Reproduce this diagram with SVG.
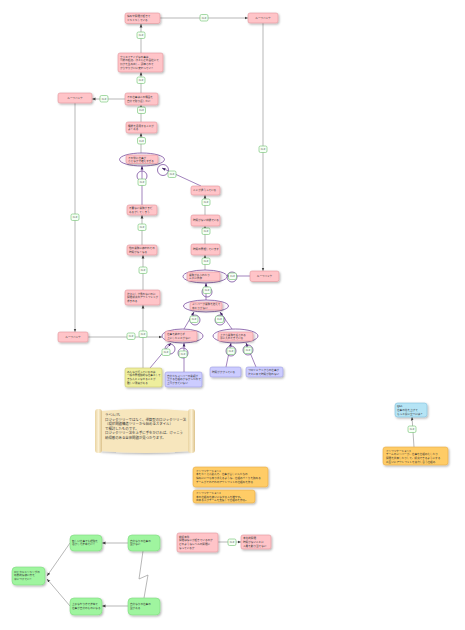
<svg xmlns="http://www.w3.org/2000/svg" width="465" height="630" viewBox="0 0 465 630">
<defs>
<filter id="sh" x="-20%" y="-20%" width="150%" height="160%"><feDropShadow dx="1" dy="1.2" stdDeviation="0.8" flood-color="#000" flood-opacity="0.3"/></filter>
<marker id="ah" viewBox="0 0 10 10" refX="10" refY="5" markerWidth="3.5" markerHeight="3.5" markerUnits="userSpaceOnUse" orient="auto"><path d="M0,1 L10,5 L0,9z" fill="#444"/></marker>
<marker id="ap" viewBox="0 0 10 10" refX="10" refY="5" markerWidth="3.5" markerHeight="3.5" markerUnits="userSpaceOnUse" orient="auto"><path d="M0,1 L10,5 L0,9z" fill="#3a2060"/></marker>
<linearGradient id="roll" x1="0" x2="1"><stop offset="0" stop-color="#e9d3a0"/><stop offset="0.5" stop-color="#fbf0d4"/><stop offset="1" stop-color="#dcc28a"/></linearGradient>
</defs>
<style>
text{font-family:"Noto Sans CJK JP","Noto Sans",sans-serif;font-size:2.6px;fill:#333}
.pk{fill:#ffc4c8;stroke:#e2959b;stroke-width:.6;filter:url(#sh)}
.yl{fill:#eeee9c;stroke:#c9c770;stroke-width:.6;filter:url(#sh)}
.bl{fill:#ccccff;stroke:#9c9ce0;stroke-width:.6;filter:url(#sh)}
.or{fill:#ffcc66;stroke:#e4aa44;stroke-width:.6;filter:url(#sh)}
.cy{fill:#b5e4f5;stroke:#80c0dc;stroke-width:.6;filter:url(#sh)}
.gr{fill:#9ff59f;stroke:#80d880;stroke-width:.6;filter:url(#sh)}
.el{fill:#fbf6fb;stroke:#7a4fa0;stroke-width:.8}
.ci{fill:none;stroke:#7a4fa0;stroke-width:.8}
.ln{fill:none;stroke:#999;stroke-width:.7}
.pl{fill:none;stroke:#7a4fa0;stroke-width:.7}
.lb rect{fill:#f6fff6;stroke:#6bbf6b;stroke-width:.6}
.lb text{font-size:2.4px;fill:#555}
.sc{font-size:3.4px}
</style>

<g id="connectors">
<path class="ln" d="M160,18 H248" marker-end="url(#ah)"/>
<path class="ln" d="M141,53 V24" marker-end="url(#ah)"/>
<path class="ln" d="M263,23 V271" marker-end="url(#ah)"/>
<path class="ln" d="M141,93 V72" marker-end="url(#ah)"/>
<path class="ln" d="M125,99 H92" marker-end="url(#ah)"/>
<path class="ln" d="M141,122 V105" marker-end="url(#ah)"/>
<path class="ln" d="M141,153 V133" marker-end="url(#ah)"/>
<path class="ln" d="M75,103 V332" marker-end="url(#ah)"/>
<path class="ln" d="M88,337 H162" marker-end="url(#ah)"/>
<path class="pl" d="M142,205 V166" marker-end="url(#ap)"/>
<path class="pl" d="M201,186 L162,168" marker-end="url(#ap)"/>
<path class="ln" d="M142,245 V215" marker-end="url(#ah)"/>
<path class="ln" d="M143,290 V255" marker-end="url(#ah)"/>
<path class="ln" d="M143,368 V305" marker-end="url(#ah)"/>
<path class="ln" d="M205,215 V195" marker-end="url(#ah)"/>
<path class="ln" d="M205,244 V226" marker-end="url(#ah)"/>
<path class="ln" d="M205,270 V255" marker-end="url(#ah)"/>
<path class="pl" d="M250,276 H227" marker-end="url(#ap)"/>
<path class="pl" d="M206,300 V283" marker-end="url(#ap)"/>
<path class="pl" d="M184,329 L194,312" marker-end="url(#ap)"/>
<path class="pl" d="M232,329 L220,312" marker-end="url(#ap)"/>
<path class="pl" d="M150,368 L171,343" marker-end="url(#ap)"/>
<path class="pl" d="M184,372 V343" marker-end="url(#ap)"/>
<path class="pl" d="M226,367 L231,343" marker-end="url(#ap)"/>
<path class="pl" d="M256,367 L246,343" marker-end="url(#ap)"/>
<path class="ln" d="M414,447 L412,417" marker-end="url(#ah)"/>
<path class="ln" d="M218,542 H241" marker-end="url(#ah)"/>
<path class="ln" d="M128,543 H102" marker-end="url(#ah)"/>
<path class="ln" d="M128,606 H102" marker-end="url(#ah)"/>
<path class="ln" d="M70,543 L47,576" marker-end="url(#ah)"/>
<path class="ln" d="M70,606 L47,579" marker-end="url(#ah)"/>
<path class="ln" d="M144,598 L148,575 L139,579 L143,551"/>
<circle class="ci" cx="142" cy="176" r="5"/>
<circle class="ci" cx="163" cy="170" r="5.5"/>
<circle class="ci" cx="232" cy="277" r="5"/>
<circle class="ci" cx="207" cy="292" r="5"/>
<circle class="ci" cx="195" cy="320" r="5"/>
<circle class="ci" cx="220" cy="320" r="5"/>
<circle class="ci" cx="170" cy="349" r="5"/>
<circle class="ci" cx="183" cy="353" r="5"/>
<circle class="ci" cx="231" cy="351" r="5"/>
<circle class="ci" cx="248" cy="350" r="5"/>
<g class="lb">
<rect x="200" y="14.5" width="8" height="6.5" rx="1.5"/><text x="204" y="18.8" text-anchor="middle">CLR</text>
<rect x="137" y="32" width="8" height="6.5" rx="1.5"/><text x="141" y="36.3" text-anchor="middle">CLR</text>
<rect x="259" y="146" width="8" height="6.5" rx="1.5"/><text x="263" y="150.3" text-anchor="middle">CLR</text>
<rect x="137" y="77" width="8" height="6.5" rx="1.5"/><text x="141" y="81.3" text-anchor="middle">CLR</text>
<rect x="100" y="95.5" width="8" height="6.5" rx="1.5"/><text x="104" y="99.8" text-anchor="middle">CLR</text>
<rect x="137.5" y="107" width="8" height="6.5" rx="1.5"/><text x="141.5" y="111.3" text-anchor="middle">CLR</text>
<rect x="137.5" y="137.5" width="8" height="6.5" rx="1.5"/><text x="141.5" y="141.8" text-anchor="middle">CLR</text>
<rect x="71" y="214" width="8" height="6.5" rx="1.5"/><text x="75" y="218.3" text-anchor="middle">CLR</text>
<rect x="127" y="333" width="8" height="6.5" rx="1.5"/><text x="131" y="337.3" text-anchor="middle">CLR</text>
<rect x="139" y="331" width="8" height="6.5" rx="1.5"/><text x="143" y="335.3" text-anchor="middle">CLR</text>
<rect x="138" y="179" width="8" height="6.5" rx="1.5"/><text x="142" y="183.3" text-anchor="middle">CLR</text>
<rect x="168" y="171" width="8" height="6.5" rx="1.5"/><text x="172" y="175.3" text-anchor="middle">CLR</text>
<rect x="138" y="224" width="8" height="6.5" rx="1.5"/><text x="142" y="228.3" text-anchor="middle">CLR</text>
<rect x="139" y="267" width="8" height="6.5" rx="1.5"/><text x="143" y="271.3" text-anchor="middle">CLR</text>
<rect x="202" y="199" width="8" height="6.5" rx="1.5"/><text x="206" y="203.3" text-anchor="middle">CLR</text>
<rect x="202" y="228" width="8" height="6.5" rx="1.5"/><text x="206" y="232.3" text-anchor="middle">CLR</text>
<rect x="202" y="258" width="8" height="6.5" rx="1.5"/><text x="206" y="262.3" text-anchor="middle">CLR</text>
<rect x="228.5" y="273" width="8" height="6.5" rx="1.5"/><text x="232.5" y="277.3" text-anchor="middle">CLR</text>
<rect x="203" y="287" width="8" height="6.5" rx="1.5"/><text x="207" y="291.3" text-anchor="middle">CLR</text>
<rect x="190" y="316" width="8" height="6.5" rx="1.5"/><text x="194" y="320.3" text-anchor="middle">CLR</text>
<rect x="215.5" y="316" width="8" height="6.5" rx="1.5"/><text x="219.5" y="320.3" text-anchor="middle">CLR</text>
<rect x="162" y="349" width="8" height="6.5" rx="1.5"/><text x="166" y="353.3" text-anchor="middle">CLR</text>
<rect x="179" y="351" width="8" height="6.5" rx="1.5"/><text x="183" y="355.3" text-anchor="middle">CLR</text>
<rect x="227" y="348" width="8" height="6.5" rx="1.5"/><text x="231" y="352.3" text-anchor="middle">CLR</text>
<rect x="244" y="347" width="8" height="6.5" rx="1.5"/><text x="248" y="351.3" text-anchor="middle">CLR</text>
<rect x="408" y="426" width="8" height="6.5" rx="1.5"/><text x="412" y="430.3" text-anchor="middle">CLR</text>
<rect x="228" y="539" width="8" height="6.5" rx="1.5"/><text x="232" y="543.3" text-anchor="middle">CLR</text>
</g>
</g>

<g id="n-top"><rect class="pk" x="125" y="13" width="35" height="10.5" rx="2"/><text x="127" y="17.3">悩みや問題が起きて</text><text x="127" y="21">ドキドキしている</text></g>
<g id="n-loop1"><rect class="pk" x="248" y="13" width="30" height="10" rx="2"/><text x="263" y="18.9" text-anchor="middle">ループバック</text></g>
<g id="n-creative"><rect class="pk" x="118" y="53" width="45" height="19" rx="2"/><text x="120" y="57.5">クリエイティブなの事は</text><text x="120" y="61.2">可能の起点、ほとんどの会社にて</text><text x="120" y="64.9">何かを生み出し、評価されて</text><text x="120" y="68.6">からやりがいに変わっていく</text></g>
<g id="n-regain"><rect class="pk" x="125" y="93" width="33" height="12" rx="2"/><text x="127" y="98">その仕事はこの機会を</text><text x="127" y="101.7">自分で取り返したい</text></g>
<g id="n-loop2"><rect class="pk" x="58" y="93" width="34" height="10" rx="2"/><text x="75" y="98.9" text-anchor="middle">ループバック</text></g>
<g id="n-func"><rect class="pk" x="126" y="122" width="31" height="11" rx="2"/><text x="128" y="126.5">機能を活用することが</text><text x="128" y="130.2">よくある</text></g>
<g id="n-andA"><ellipse class="el" cx="142" cy="159.5" rx="22.5" ry="6.5"/><rect class="pk" x="126" y="155" width="32" height="8.5" rx="2"/><text x="128" y="158.6">その後に仕事が</text><text x="128" y="162.1">ささなかで増えすぎる</text></g>
<g id="n-unneeded"><rect class="pk" x="127" y="205" width="30" height="10" rx="2"/><text x="129" y="209.2">不要ない業務がまだ</text><text x="129" y="212.8">あるかしてしまう</text></g>
<g id="n-resource"><rect class="pk" x="127" y="245" width="30" height="10" rx="2"/><text x="129" y="249.2">他の業務に使われての</text><text x="129" y="252.8">時間がなくなる</text></g>
<g id="n-next"><rect class="pk" x="125" y="290" width="35" height="15" rx="2"/><text x="127" y="294.5">次々にしか見れないのに</text><text x="127" y="298.2">問題解決のアウトプットが</text><text x="127" y="301.9">求まれる</text></g>
<g id="n-diff"><rect class="pk" x="191" y="186" width="29" height="9" rx="2"/><text x="193" y="191.4">ここが違うっている</text></g>
<g id="n-notime"><rect class="pk" x="191" y="215" width="29" height="11" rx="2"/><text x="193" y="221.4">時間がない状態でいる</text></g>
<g id="n-manage"><rect class="pk" x="191" y="244" width="29" height="11" rx="2"/><text x="193" y="250.4">時間の管理しています</text></g>
<g id="n-andB"><ellipse class="el" cx="205" cy="276.5" rx="22" ry="6.5"/><rect class="pk" x="187" y="272" width="33" height="9" rx="2"/><text x="189" y="275.7">業務があふれたり</text><text x="189" y="279.2">ムダに残存</text></g>
<g id="n-loop3"><rect class="pk" x="250" y="271" width="29" height="10.5" rx="2"/><text x="264.5" y="277.2" text-anchor="middle">ループバック</text></g>
<g id="n-andC"><ellipse class="el" cx="206" cy="306" rx="22.5" ry="6"/><rect class="pk" x="190" y="302" width="32" height="8" rx="2"/><text x="192" y="305.4">メンバーが業務を抱えて</text><text x="192" y="308.8">ゆとりがない</text></g>
<g id="n-loop4"><rect class="pk" x="58" y="332" width="30" height="10" rx="2"/><text x="73" y="337.9" text-anchor="middle">ループバック</text></g>
<g id="n-andD"><ellipse class="el" cx="182.5" cy="336" rx="20.5" ry="7"/><rect class="pk" x="165" y="331" width="32" height="10" rx="2"/><text x="167" y="335.1">仕事を教わらず</text><text x="167" y="338.8">上にしたことがない</text></g>
<g id="n-andE"><ellipse class="el" cx="235.5" cy="336" rx="22.5" ry="7"/><rect class="pk" x="218" y="332" width="35" height="9" rx="2"/><text x="220" y="335.7">上から業務を任される</text><text x="220" y="339.2">手に入れてきている</text></g>
<g id="n-yellow"><rect class="yl" x="125" y="368" width="37" height="19" rx="2"/><text x="127" y="372.5">みんなが行っているのは</text><text x="127" y="376.2">一般の管理職的な仕事として</text><text x="127" y="379.9">きちんとこなせることが</text><text x="127" y="383.6">難しい現実がある</text></g>
<g id="n-blue1"><rect class="bl" x="165" y="372" width="37" height="15" rx="2"/><text x="167" y="376.5">自分たちメンバーの業績が</text><text x="167" y="380.2">上がる仕組みがなかったので</text><text x="167" y="383.9">上司がまだいない</text></g>
<g id="n-blue2"><rect class="bl" x="210" y="367" width="31" height="10" rx="2"/><text x="212" y="373">時間がかかっている</text></g>
<g id="n-blue3"><rect class="bl" x="246" y="367" width="37" height="10" rx="2"/><text x="248" y="371.2">プロジェクトからの仕事が</text><text x="248" y="374.8">次々に来て時間が取れない</text></g>

<g id="n-scroll">
<path d="M100,411 Q146,407 190,411 L190,451 Q146,455 100,451 Z" fill="#f7e6bd" filter="url(#sh)"/>
<rect x="95" y="409" width="7" height="44" rx="3" fill="url(#roll)"/>
<rect x="188" y="409" width="7" height="44" rx="3" fill="url(#roll)"/>
<text class="sc" x="105" y="416">ラベル/凡</text>
<text class="sc" x="105" y="420.5">ロジックツリーではなく、逆算型のロジックツリー法</text>
<text class="sc" x="105" y="425">（現状問題構造ツリーから始めるスタイル）</text>
<text class="sc" x="105" y="429.5">で検討したものです。</text>
<text class="sc" x="105" y="434">ロジックツリー法を上手に手をかければ、けっこう</text>
<text class="sc" x="105" y="438.5">納得感のある全体問題が見つかります。</text>
</g>

<g id="n-impl1"><rect class="or" x="193" y="467" width="75" height="20" rx="2.5"/><text x="196" y="471.5">インプリケーション1</text><text x="196" y="475.2">本をたくさん読んで、仕事が苦しい人たちの</text><text x="196" y="478.9">悩みにいつも寄り添えるような、仕組みづくりを試みる</text><text x="196" y="482.6">チームがそれぞれのアウトプットの仕組みを作る</text></g>
<g id="n-impl2"><rect class="or" x="193" y="490" width="62" height="13" rx="2.5"/><text x="196" y="494.3">インプリケーション2</text><text x="196" y="497.8">本の仕組みを使いこなせる人を増やす。</text><text x="196" y="501.3">出来る人がチームを支援して仕組みを作る。</text></g>

<g id="n-q"><rect class="cy" x="395" y="403" width="32" height="14" rx="2.5"/><text x="397" y="407.3">Q&amp;A</text><text x="397" y="410.9">仕事の質を上げて</text><text x="397" y="414.5">もっと役に立つには？</text></g>
<g id="n-impl3"><rect class="or" x="383" y="447" width="65" height="18" rx="2.5"/><text x="386" y="451.5">インプリケーション3</text><text x="386" y="455.2">チームのメンバーが、仕事を仕組み化したり</text><text x="386" y="458.9">問題を共有したりして、解決できるようにする</text><text x="386" y="462.6">お互いにアウトプットを協力し合う仕組み</text></g>

<g id="n-gA"><rect class="gr" x="12" y="567" width="33" height="18" rx="4"/><text x="14" y="572.5">ロジカルシンキングの</text><text x="14" y="576.3">効果的な使い方を</text><text x="14" y="580.1">身につけていく</text></g>
<g id="n-gB"><rect class="gr" x="70" y="535" width="32" height="16" rx="4"/><text x="72" y="541.5">新しい仕事でも経験を</text><text x="72" y="545.3">活かして進めていく</text></g>
<g id="n-gC"><rect class="gr" x="128" y="535" width="32" height="16" rx="4"/><text x="130" y="541.5">自分なりの仕事の</text><text x="130" y="545.3">型がない</text></g>
<g id="n-gD"><rect class="gr" x="70" y="598" width="32" height="17" rx="4"/><text x="72" y="605">上手なやり方で進めて</text><text x="72" y="608.8">仕事が自分のものになる</text></g>
<g id="n-gE"><rect class="gr" x="128" y="598" width="32" height="17" rx="4"/><text x="130" y="605">自分なりの仕事の</text><text x="130" y="608.8">型がある</text></g>

<g id="n-p1"><rect class="pk" x="177" y="533" width="41" height="19" rx="2"/><text x="179" y="537.5">前提条件</text><text x="179" y="541.2">問題はなにが起きているのか</text><text x="179" y="544.9">どのようなレベルの問題に</text><text x="179" y="548.6">なっているか</text></g>
<g id="n-p2"><rect class="pk" x="241" y="535" width="30" height="14" rx="2"/><text x="243" y="539.3">本質的問題</text><text x="243" y="542.9">時間がないことに</text><text x="243" y="546.5">人員を割り当てない</text></g>
</svg>
